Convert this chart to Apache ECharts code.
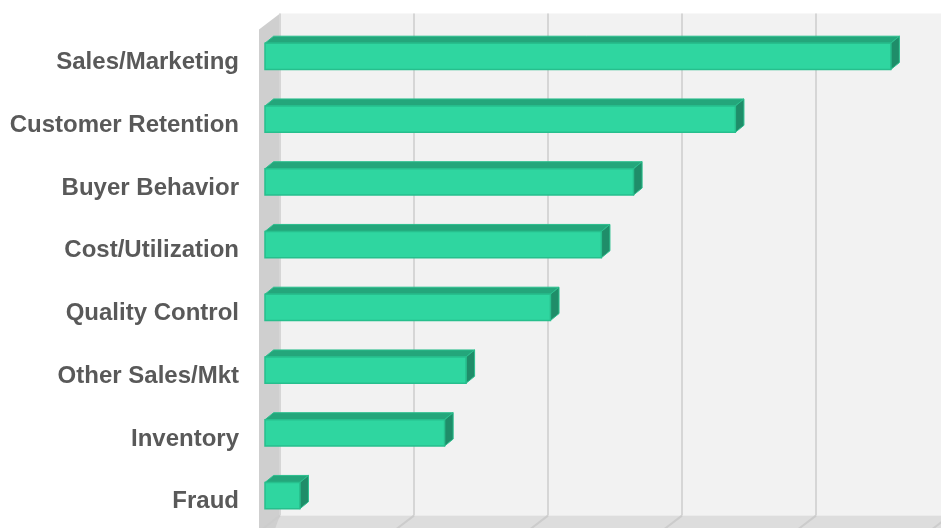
<!DOCTYPE html>
<html>
<head>
<meta charset="utf-8">
<script src="https://cdn.jsdelivr.net/npm/echarts@6/dist/echarts.min.js"></script>
<style>html,body{margin:0;padding:0;background:#fff;}#c{width:941px;height:528px;}</style>
</head>
<body>
<div id="c"></div>
<script>
const categories = ['Sales/Marketing','Customer Retention','Buyer Behavior','Cost/Utilization','Quality Control','Other Sales/Mkt','Inventory','Fraud'];
const values = [46.7, 35.1, 27.5, 25.1, 21.3, 15.0, 13.4, 2.6];
const gridTicks = [0, 10, 20, 30, 40, 50];

const chart = echarts.init(document.getElementById('c'), null, {renderer: 'canvas'});

// depth offsets relative to the bar front plane
const BACK = [15, -11.4];
const FRONT = [-6, 4.6];
const BAR_D = [8.6, -7];

function renderWalls(params, api) {
  const cs = params.coordSys;
  const W = api.getWidth();
  const top = cs.y, bot = cs.y + cs.height;
  const x0 = api.coord([0, 0])[0];
  const xb = x0 + BACK[0], xf = x0 + FRONT[0];
  const tb = top + BACK[1], bb = bot + BACK[1];
  const tf = top + FRONT[1], bf = bot + FRONT[1];
  const children = [
    {type: 'rect', shape: {x: xb, y: tb, width: W - xb + 40, height: bb - tb}, style: {fill: '#f2f2f2'}},
    {type: 'polygon', shape: {points: [[xb, bb], [W + 40, bb], [W + 40, bf + 40], [xf, bf + 40], [xf, bf]]}, style: {fill: '#dddddd'}},
    {type: 'polygon', shape: {points: [[xb, tb], [xf, tf], [xf, bf + 40], [xb, bb]]}, style: {fill: '#cfcfcf'}}
  ];
  gridTicks.forEach(v => {
    const x = api.coord([v, 0])[0];
    children.push({type: 'line', shape: {x1: x + BACK[0], y1: tb, x2: x + BACK[0], y2: bb}, style: {stroke: '#d6d6d6', lineWidth: 2}});
    children.push({type: 'line', shape: {x1: x + BACK[0], y1: bb, x2: x + FRONT[0], y2: bf}, style: {stroke: '#cccccc', lineWidth: 2}});
  });
  return {type: 'group', children};
}

function renderBar(params, api) {
  const cat = api.value(0), val = api.value(1);
  const s = api.coord([0, cat]);
  const e = api.coord([val, cat]);
  const h = api.size([0, 1])[1] * 0.42;
  const x0 = s[0], x1 = e[0];
  const yT = s[1] - h / 2, yB = s[1] + h / 2;
  const dx = BAR_D[0], dy = BAR_D[1];
  return {type: 'group', children: [
    {type: 'polygon', shape: {points: [[x0, yT], [x1, yT], [x1 + dx, yT + dy], [x0 + dx, yT + dy]]}, style: {fill: '#24a67b', stroke: '#2bbf8e', lineWidth: 1}},
    {type: 'polygon', shape: {points: [[x1, yT], [x1 + dx, yT + dy], [x1 + dx, yB + dy], [x1, yB]]}, style: {fill: '#1f8d69', stroke: '#2bbf8e', lineWidth: 1}},
    {type: 'rect', shape: {x: x0, y: yT, width: x1 - x0, height: h}, style: {fill: '#2fd6a0', stroke: '#27bf8d', lineWidth: 1.5}}
  ]};
}

chart.setOption({
  animation: false,
  backgroundColor: '#ffffff',
  grid: {left: 265, top: 25, width: 670, height: 502, containLabel: false},
  xAxis: {type: 'value', min: 0, max: 50, interval: 10, show: false},
  yAxis: {
    type: 'category', data: categories, inverse: true,
    axisLine: {show: false}, axisTick: {show: false}, splitLine: {show: false},
    axisLabel: {margin: 26, color: '#595959', fontSize: 24, fontWeight: 'bold', fontFamily: 'Liberation Sans, Arial, sans-serif', verticalAlign: 'top', lineHeight: 12},
    z: 10
  },
  series: [
    {type: 'custom', name: 'walls', renderItem: renderWalls, data: [[0, 0]], encode: {y: 0, x: 1}, z: 1, silent: true},
    {type: 'custom', name: 'bars', renderItem: renderBar, data: values.map((v, i) => [i, v]), encode: {y: 0, x: 1}, z: 5}
  ]
});
</script>
</body>
</html>
